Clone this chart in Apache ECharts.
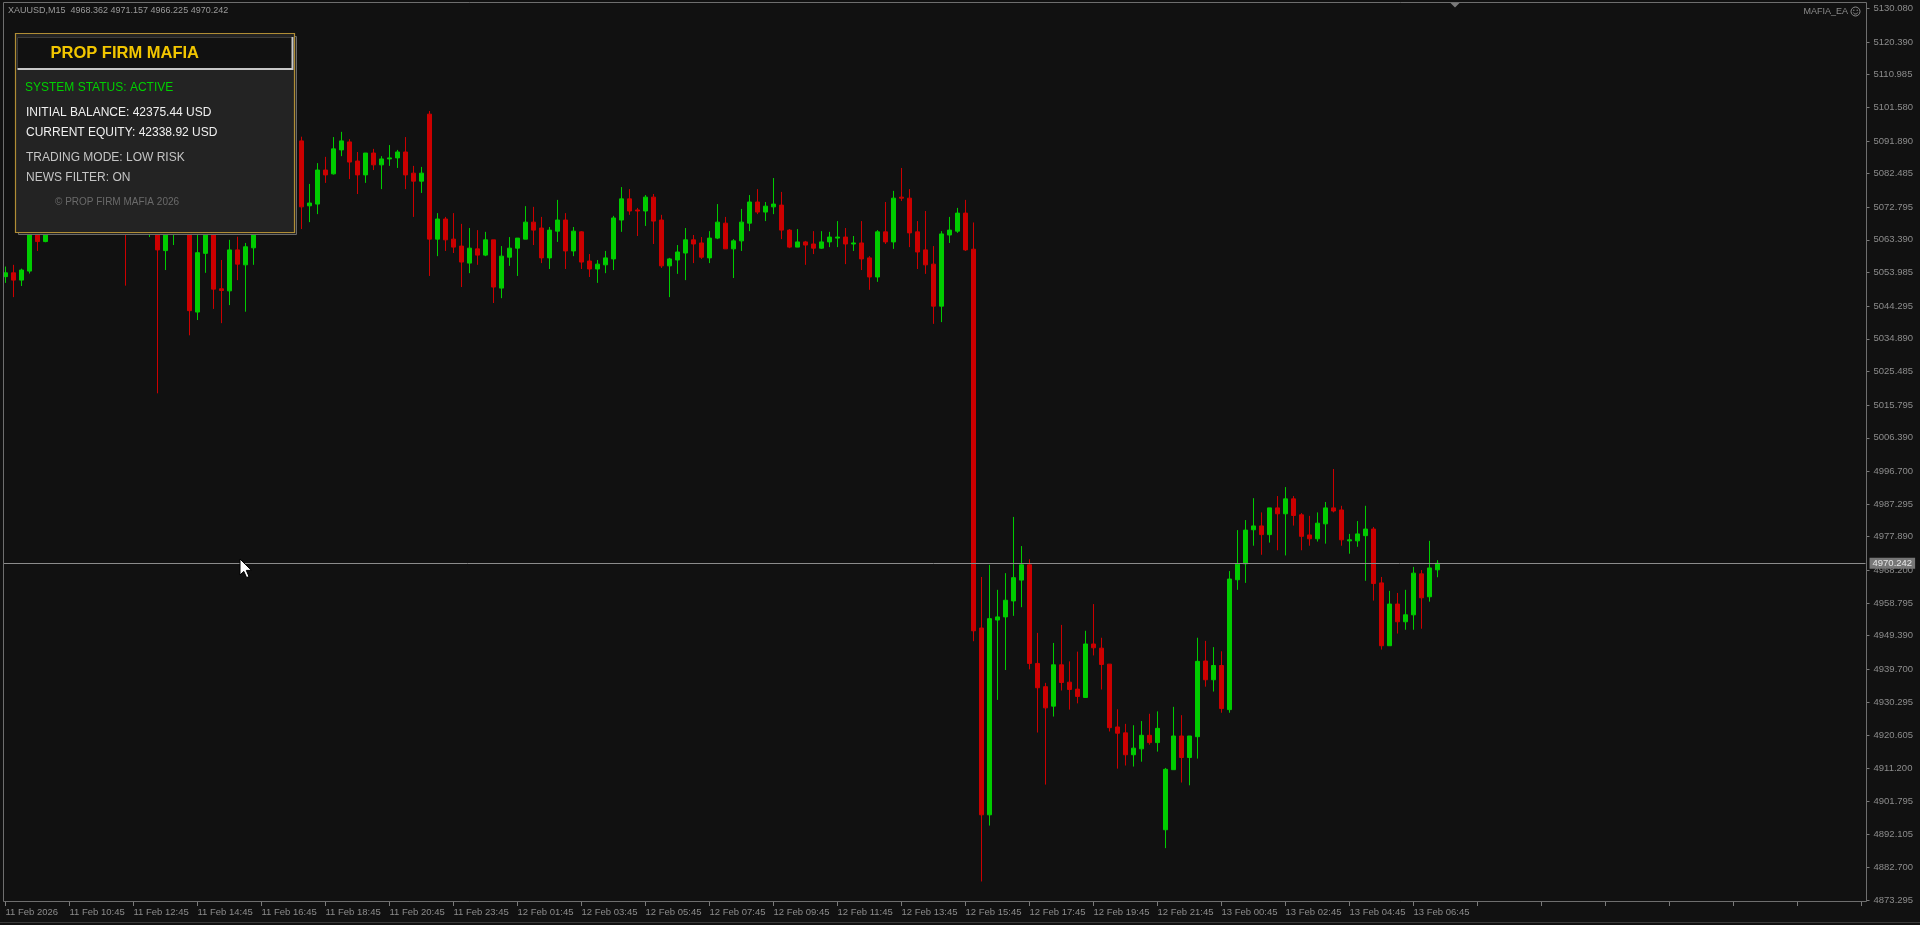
<!DOCTYPE html>
<html><head><meta charset="utf-8">
<script src="https://cdn.jsdelivr.net/npm/echarts@6/dist/echarts.min.js"></script>
<style>html,body{margin:0;padding:0;background:#111111;overflow:hidden}#chart{width:1920px;height:925px}</style>
</head><body><div id="chart"></div>
<script>
const symbolName = 'XAUUSD,M15';
const timeLabels = ["11 Feb 2026","11 Feb 10:45","11 Feb 12:45","11 Feb 14:45","11 Feb 16:45","11 Feb 18:45","11 Feb 20:45","11 Feb 23:45","12 Feb 01:45","12 Feb 03:45","12 Feb 05:45","12 Feb 07:45","12 Feb 09:45","12 Feb 11:45","12 Feb 13:45","12 Feb 15:45","12 Feb 17:45","12 Feb 19:45","12 Feb 21:45","13 Feb 00:45","13 Feb 02:45","13 Feb 04:45","13 Feb 06:45"];
const priceTicks = [5130.080,5120.390,5110.985,5101.580,5091.890,5082.485,5072.795,5063.390,5053.985,5044.295,5034.890,5025.485,5015.795,5006.390,4996.700,4987.295,4977.890,4968.200,4958.795,4949.390,4939.700,4930.295,4920.605,4911.200,4901.795,4892.105,4882.700,4873.295];

const opens = [5052.8,5053.9,5051.8,5054.4,5067.7,5062.9,5068.5,5072.0,5070.1,5074.6,5077.8,5075.3,5071.4,5073.9,5070.6,5068.2,5066.8,5069.5,5066.0,5068.8,
5060.3,5066.0,5069.5,5072.3,5042.6,5059.5,5067.5,5049.3,5048.7,5060.5,5056.2,5061.1,5068.5,5073.6,5079.2,5083.8,5087.4,5091.9,5073.2,5073.7,
5083.5,5082.4,5089.3,5091.6,5086.1,5082.1,5088.4,5085.0,5086.7,5087.0,5088.7,5082.6,5080.3,5099.6,5063.6,5069.4,5063.6,5061.6,5056.7,5060.8,
5059.0,5063.4,5049.5,5058.4,5061.0,5063.6,5068.5,5066.8,5058.2,5065.9,5069.1,5060.2,5065.7,5057.3,5055.0,5056.2,5057.9,5069.1,5075.2,5072.0,
5071.7,5075.7,5069.1,5055.9,5057.6,5059.6,5063.4,5062.5,5058.2,5063.9,5068.2,5060.8,5063.1,5068.2,5074.3,5071.4,5072.9,5073.4,5066.2,5061.3,
5062.8,5062.2,5061.0,5062.8,5063.9,5064.2,5062.2,5062.5,5058.2,5052.7,5065.7,5062.8,5075.7,5075.4,5065.7,5060.5,5056.4,5044.3,5064.8,5065.9,
5071.1,5060.7,4951.6,4897.8,4953.9,4954.8,4959.4,4965.4,4969.8,4941.4,4934.7,4929.1,4941.0,4936.0,4934.0,4931.6,4947.0,4945.8,4941.2,4923.1,
4921.4,4915.1,4916.8,4920.7,4918.6,4893.5,4910.8,4920.5,4914.3,4920.3,4942.1,4936.7,4940.8,4928.1,4965.5,4970.1,4979.9,4981.0,4978.5,4986.2,
4984.5,4988.8,4984.2,4978.4,4977.3,4981.6,4986.2,4985.6,4976.7,4976.7,4978.2,4980.1,4964.6,4946.5,4958.5,4953.4,4955.4,4967.2,4960.6,4968.362];

const closes = [5053.9,5051.8,5054.7,5070.6,5062.9,5068.5,5072.0,5070.1,5074.6,5077.8,5075.3,5071.4,5073.9,5070.6,5068.2,5066.8,5069.5,5067.0,5068.8,5060.5,
5066.5,5069.5,5072.3,5043.0,5059.7,5068.0,5049.2,5048.8,5060.5,5056.4,5061.4,5068.5,5073.6,5079.2,5083.8,5087.4,5091.9,5072.9,5074.0,5083.5,
5082.1,5089.6,5091.9,5085.8,5082.1,5088.4,5085.0,5086.7,5087.0,5088.7,5082.1,5080.3,5082.6,5063.6,5069.4,5063.4,5061.3,5057.0,5061.0,5059.0,
5063.4,5049.8,5058.7,5061.0,5063.9,5068.5,5066.2,5058.2,5066.2,5069.1,5060.2,5065.9,5057.0,5055.0,5056.4,5058.2,5069.7,5075.2,5071.7,5071.7,
5075.7,5068.8,5055.9,5057.9,5059.9,5063.4,5062.2,5058.4,5063.9,5068.5,5060.8,5063.1,5068.5,5074.3,5071.4,5073.1,5073.7,5066.2,5061.3,5062.8,
5061.9,5061.0,5062.8,5064.2,5064.2,5062.2,5062.5,5057.9,5052.7,5065.7,5062.8,5075.4,5075.4,5065.4,5059.9,5056.2,5044.3,5065.1,5066.2,5071.1,
5060.5,4950.8,4897.8,4954.3,4954.8,4959.6,4966.1,4969.8,4941.4,4934.4,4928.6,4941.0,4935.9,4933.9,4931.9,4947.0,4945.9,4941.1,4922.9,4921.3,
4915.1,4917.0,4920.7,4918.6,4922.7,4910.9,4920.5,4914.3,4920.5,4942.0,4936.7,4940.8,4928.4,4965.7,4970.0,4979.8,4981.0,4978.5,4986.2,4984.5,
4988.8,4984.0,4978.0,4977.3,4981.8,4986.2,4985.3,4977.0,4977.0,4978.7,4980.1,4964.4,4946.5,4958.5,4953.4,4955.4,4967.4,4960.3,4968.9,4970.242];

const lows = [5051.0,5046.9,5050.1,5053.7,5060.2,5062.7,5066.8,5068.3,5069.2,5073.1,5073.9,5069.8,5070.2,5069.1,5066.9,5050.2,5066.2,5066.0,5064.2,5019.2,
5054.7,5061.9,5067.0,5035.9,5040.3,5053.9,5043.5,5039.4,5044.6,5051.8,5042.7,5056.2,5066.9,5072.1,5077.5,5081.9,5085.6,5066.5,5068.5,5070.8,
5079.8,5082.2,5087.5,5080.9,5076.6,5079.8,5083.5,5078.0,5084.7,5084.1,5078.0,5070.0,5076.9,5053.0,5058.7,5060.2,5059.6,5049.8,5053.8,5056.2,
5058.7,5045.2,5046.6,5055.9,5053.0,5063.6,5061.9,5056.7,5055.0,5062.8,5055.0,5058.7,5055.0,5052.7,5051.0,5053.8,5054.7,5065.7,5070.6,5064.5,
5067.4,5062.2,5055.3,5046.9,5053.6,5051.8,5056.7,5057.9,5056.7,5063.6,5060.8,5052.4,5060.2,5065.9,5070.8,5068.8,5070.8,5063.6,5061.0,5061.3,
5056.2,5059.3,5060.8,5061.3,5061.3,5056.4,5060.2,5054.7,5049.0,5051.3,5062.2,5060.8,5074.6,5061.3,5055.0,5053.6,5039.2,5039.7,5062.5,5065.4,
5060.2,4947.8,4878.6,4894.7,4930.9,4939.5,4955.1,4957.6,4939.7,4921.5,4906.5,4926.1,4933.6,4928.1,4929.9,4931.6,4943.7,4933.9,4921.8,4911.1,
4912.0,4911.7,4913.1,4918.0,4916.0,4888.2,4910.8,4907.1,4906.3,4914.0,4934.7,4933.3,4927.2,4927.2,4962.6,4964.6,4975.3,4972.7,4976.2,4974.0,
4972.5,4981.1,4974.0,4975.3,4976.5,4975.9,4984.9,4975.3,4973.0,4975.0,4965.2,4959.5,4945.4,4946.5,4950.0,4951.1,4951.1,4951.4,4959.2,4966.225];

const highs = [5055.7,5056.2,5055.1,5073.4,5069.1,5070.6,5074.2,5075.0,5076.3,5079.5,5080.2,5076.7,5075.8,5075.2,5072.4,5071.0,5071.3,5070.8,5070.5,5071.2,
5068.0,5071.5,5074.0,5074.5,5066.5,5070.2,5070.0,5057.6,5063.4,5064.3,5062.5,5070.8,5075.7,5081.4,5086.0,5089.9,5094.1,5093.1,5079.5,5085.5,
5087.3,5093.0,5094.5,5092.4,5088.7,5088.4,5089.6,5087.5,5090.7,5089.3,5093.0,5084.7,5084.4,5100.5,5071.1,5070.0,5071.1,5068.0,5066.8,5066.2,
5065.7,5063.4,5061.6,5064.2,5063.9,5073.1,5072.9,5070.0,5067.1,5074.9,5071.1,5067.1,5065.9,5059.3,5057.6,5060.2,5070.3,5078.6,5078.0,5072.6,
5076.3,5076.6,5070.6,5058.2,5061.9,5066.8,5064.8,5064.2,5065.9,5073.7,5070.0,5063.6,5072.3,5076.3,5078.0,5074.3,5081.2,5077.2,5066.5,5066.5,
5063.1,5065.9,5065.9,5065.7,5068.8,5066.8,5064.5,5068.8,5058.7,5066.2,5074.3,5077.5,5084.1,5078.0,5068.8,5071.7,5061.6,5065.9,5070.0,5072.6,
5074.9,5068.4,4966.3,4969.8,4962.6,4967.4,4983.6,4975.2,4971.4,4950.2,4935.8,4947.3,4952.5,4942.0,4944.8,4950.8,4958.5,4948.8,4941.2,4928.2,
4924.0,4923.6,4924.8,4926.9,4927.6,4911.3,4928.9,4926.5,4920.5,4948.8,4947.9,4946.1,4944.9,4968.0,4979.8,4982.7,4989.0,4984.9,4986.2,4989.6,
4992.2,4989.6,4984.7,4983.9,4984.9,4987.9,4997.4,4986.8,4978.7,4982.4,4986.8,4980.7,4966.3,4962.3,4961.7,4962.6,4969.2,4968.3,4976.7,4971.157];

const panelTitle = 'PROP FIRM MAFIA';
const panelStatus = 'SYSTEM STATUS: ACTIVE';
const panelBalance = 'INITIAL BALANCE: 42375.44 USD';
const panelEquity = 'CURRENT EQUITY: 42338.92 USD';
const panelMode = 'TRADING MODE: LOW RISK';
const panelNews = 'NEWS FILTER: ON';
const panelCopy = '\u00A9 PROP FIRM MAFIA 2026';
const eaName = 'MAFIA_EA';

const BG = '#111111', UP = '#00cc00', DOWN = '#cc0000', AX = '#8c8c8c';
const FONT = '"Liberation Sans", Arial, sans-serif';
const SLOTS = 233;

const last = opens.length - 1;
const lastPrice = closes[last];
const headerText = symbolName + '  ' + opens[last].toFixed(3) + ' ' + highs[last].toFixed(3) + ' ' + lows[last].toFixed(3) + ' ' + closes[last].toFixed(3);

const categories = [];
for (let i = 0; i < SLOTS; i++) categories.push(String(i));
const candles = opens.map((o, i) => [o, closes[i], lows[i], highs[i]]);

const chart = echarts.init(document.getElementById('chart'), null, {renderer: 'canvas'});

function txt(x, y, text, fill, font, align) {
  return {type: 'text', x: x, y: y, z: 110, silent: true,
    style: {text: text, fill: fill, font: font, align: align || 'left', verticalAlign: 'middle'}};
}

const graphics = [
  {type: 'rect', z: 40, silent: true, shape: {x: 0, y: 0, width: 3.5, height: 925}, style: {fill: BG}},
  {type: 'rect', z: 50, silent: true, shape: {x: 3.5, y: 2.5, width: 1863, height: 899}, style: {fill: null, stroke: '#6e6e6e', lineWidth: 1}},
  {type: 'line', z: 50, silent: true, shape: {x1: 0, y1: 922.5, x2: 1920, y2: 922.5}, style: {stroke: '#3a3a3a', lineWidth: 1}},
  txt(8, 10.5, headerText, '#9a9a9a', '9px ' + FONT),
  txt(1848, 11.5, eaName, AX, '9px ' + FONT, 'right'),
  {type: 'circle', z: 60, silent: true, shape: {cx: 1855.5, cy: 11.5, r: 4.5}, style: {fill: null, stroke: AX, lineWidth: 1}},
  {type: 'circle', z: 60, silent: true, shape: {cx: 1853.8, cy: 10.3, r: 0.7}, style: {fill: AX}},
  {type: 'circle', z: 60, silent: true, shape: {cx: 1857.2, cy: 10.3, r: 0.7}, style: {fill: AX}},
  {type: 'arc', z: 60, silent: true, shape: {cx: 1855.5, cy: 11.8, r: 2.3, startAngle: 0.3, endAngle: Math.PI - 0.3}, style: {fill: null, stroke: AX, lineWidth: 0.9}},
  {type: 'polygon', z: 60, silent: true, shape: {points: [[1450.5, 3], [1459.5, 3], [1455, 7.5]]}, style: {fill: '#7a7a7a'}},
  // panel
  {type: 'rect', z: 100, silent: true, shape: {x: 18.5, y: 36.5, width: 278, height: 198}, style: {fill: '#232323', stroke: '#6a6a6a', lineWidth: 1}},
  {type: 'rect', z: 101, silent: true, shape: {x: 15.5, y: 33.5, width: 279, height: 199}, style: {fill: '#232323', stroke: '#b08d35', lineWidth: 1.2}},
  {type: 'rect', z: 102, silent: true, shape: {x: 17.5, y: 37, width: 276, height: 33}, style: {fill: '#111111'}},
  {type: 'polyline', z: 103, silent: true, shape: {points: [[17.5, 69.5], [17.5, 37.5], [292.5, 37.5]]}, style: {fill: null, stroke: '#3c3c3c', lineWidth: 1}},
  {type: 'polyline', z: 103, silent: true, shape: {points: [[292.5, 37], [292.5, 69], [17.5, 69]]}, style: {fill: null, stroke: '#c8c8c8', lineWidth: 2}},
  txt(50.5, 53, panelTitle, '#f2c600', 'bold 16.5px ' + FONT),
  txt(25, 87.7, panelStatus, '#00d000', '12px ' + FONT),
  txt(26, 112.3, panelBalance, '#f0f0f0', '12px ' + FONT),
  txt(26, 132.3, panelEquity, '#f0f0f0', '12px ' + FONT),
  txt(26, 157.3, panelMode, '#c4c4c4', '12px ' + FONT),
  txt(26, 177.3, panelNews, '#c4c4c4', '12px ' + FONT),
  txt(55, 202.7, panelCopy, '#6a6a6a', '10px ' + FONT),
  // mouse cursor
  {type: 'polygon', z: 120, silent: true, shape: {points: [[240, 559], [240, 575], [243.8, 571.4], [246.6, 577.6], [249, 576.6], [246.3, 570.4], [251.5, 570.4]]}, style: {fill: '#ffffff', stroke: '#000000', lineWidth: 1}}
];

const option = {
  backgroundColor: BG,
  animation: false,
  grid: {left: 1.5, top: 3, width: 1864, height: 899, containLabel: false, outerBoundsMode: 'none'},
  xAxis: {
    type: 'category', data: categories, boundaryGap: true,
    axisLine: {show: false},
    axisTick: {show: true, interval: 7, alignWithLabel: true, length: 4, lineStyle: {color: '#7a7a7a'}},
    axisLabel: {show: true, interval: 7, align: 'left', margin: 5, color: AX, fontSize: 9.5, fontFamily: FONT,
      formatter: function (v, idx) { return (idx % 8 === 0 && timeLabels[idx / 8]) ? timeLabels[idx / 8] : ''; }},
    splitLine: {show: false}
  },
  yAxis: {
    type: 'value', position: 'right', offset: 1, scale: true,
    min: 4872.69, max: 5131.61,
    axisLine: {show: false},
    splitLine: {show: false},
    axisTick: {show: true, length: 3, customValues: priceTicks, lineStyle: {color: '#7a7a7a'}},
    axisLabel: {show: true, customValues: priceTicks, margin: 7, color: AX, fontSize: 9.5, fontFamily: FONT,
      formatter: function (v) { return Number(v).toFixed(3); }}
  },
  series: [{
    type: 'candlestick', data: candles, barWidth: 4, clip: true,
    itemStyle: {color: UP, color0: DOWN, borderColor: UP, borderColor0: DOWN, borderWidth: 1},
    emphasis: {disabled: true},
    markLine: {
      silent: true, animation: false, symbol: ['none', 'none'],
      lineStyle: {color: '#8c8c8c', width: 1, type: 'solid'},
      label: {show: true, position: 'end', distance: 4, formatter: lastPrice.toFixed(3),
        backgroundColor: '#777777', color: '#e6e6e6', fontSize: 9.5, fontFamily: FONT, padding: [1, 3, 0, 3]},
      emphasis: {disabled: true},
      data: [{yAxis: lastPrice}]
    }
  }],
  graphic: {elements: graphics}
};
chart.setOption(option);
</script>
</body></html>
